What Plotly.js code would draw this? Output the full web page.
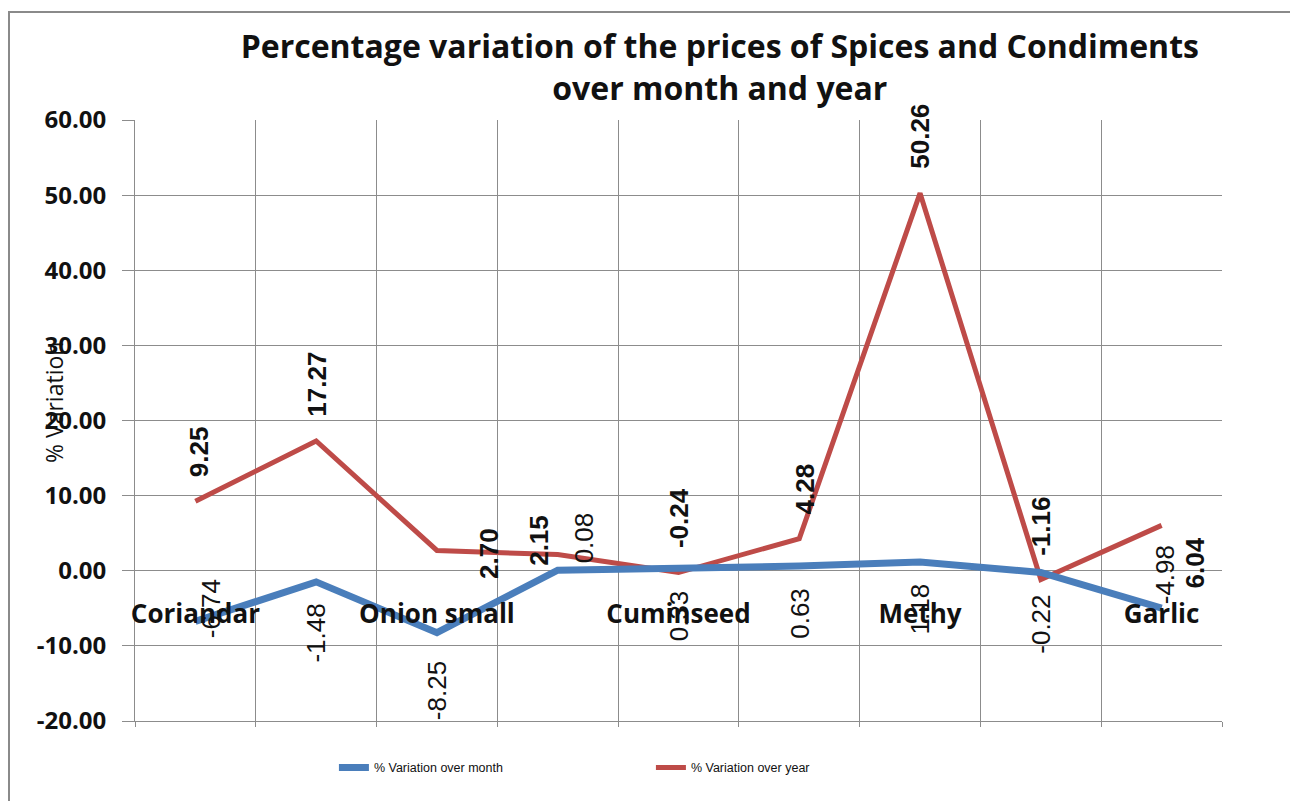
<!DOCTYPE html>
<html>
<head>
<meta charset="utf-8">
<script src="https://cdn.plot.ly/plotly-3.0.1.min.js"></script>
<style>
  html, body { margin: 0; padding: 0; background: #ffffff; }
  #frame { position: absolute; left: 8px; top: 11px; width: 1300px; height: 820px;
           border-left: 2px solid #8a8a8a; border-top: 2px solid #8a8a8a; }
  #chart { position: absolute; left: 0; top: 0; width: 1290px; height: 801px; }
</style>
</head>
<body>
<div id="frame"></div>
<div id="chart"></div>
<script>
// ---- data ----
var categories = ['Coriandar', 'Chillies', 'Onion small', 'Turmeric', 'Cuminseed', 'Tamarind', 'Methy', 'Ginger', 'Garlic'];
var shownLabels = ['Coriandar', 'Onion small', 'Cuminseed', 'Methy', 'Garlic'];
var overMonth = [-6.74, -1.48, -8.25, 0.08, 0.33, 0.63, 1.18, -0.22, -4.98];
var overYear  = [9.25, 17.27, 2.70, 2.15, -0.24, 4.28, 50.26, -1.16, 6.04];
var yTicks = [-20, -10, 0, 10, 20, 30, 40, 50, 60];
var seriesNames = ['% Variation over month', '% Variation over year'];
var titleText = 'Percentage variation of the prices of Spices and Condiments<br>over month and year';
var yTitleText = '% Variation';

// ---- styles ----
var blue = '#4A7EBB';
var red = '#BE4B48';
var grid = '#8c8c8c';
var labelFont = 'Liberation Sans, Arial, sans-serif';
var boldFont = 'Open Sans, sans-serif';
// label nudges in pixels [right, down] relative to the default label placement (style only)
var nudgeMonth = [[15, -64], [0, 0], [0, 6], [26, -80], [0, 0], [0, 0], [0, 0], [0, 0], [3, -85]];
var nudgeYear  = [[3, 0], [0, 0], [52, 52], [-19, 35], [0, 0], [6, 0], [0, 0], [0, 0], [33, 87]];

var traces = [
  { x: categories, y: overMonth, name: seriesNames[0], type: 'scatter', mode: 'lines',
    xaxis: 'x2', yaxis: 'y', line: { color: blue, width: 7 } },
  { x: categories, y: overYear, name: seriesNames[1], type: 'scatter', mode: 'lines',
    xaxis: 'x', yaxis: 'y', line: { color: red, width: 5 } }
];

var annotations = [];
categories.forEach(function (c, i) {
  annotations.push({ x: c, y: overMonth[i], xref: 'x', yref: 'y', text: overMonth[i].toFixed(2),
    showarrow: false, textangle: -90, yanchor: 'top',
    xshift: nudgeMonth[i][0], yshift: -20 - nudgeMonth[i][1],
    font: { family: labelFont, size: 26, color: '#111' } });
  annotations.push({ x: c, y: overYear[i], xref: 'x', yref: 'y', text: '<b>' + overYear[i].toFixed(2) + '</b>',
    showarrow: false, textangle: -90, yanchor: 'bottom',
    xshift: nudgeYear[i][0], yshift: 22 - nudgeYear[i][1],
    font: { family: labelFont, size: 26, color: '#111' } });
});
annotations.push({ xref: 'paper', yref: 'paper', x: -0.074, y: 0.53, xanchor: 'center', yanchor: 'middle',
  text: yTitleText, showarrow: false, textangle: -90,
  font: { family: 'Open Sans, sans-serif', size: 23, color: '#111' } });

var layout = {
  width: 1290, height: 801,
  paper_bgcolor: 'rgba(0,0,0,0)', plot_bgcolor: 'rgba(0,0,0,0)',
  margin: { l: 135, r: 68, t: 120, b: 80 },
  title: { text: titleText, xref: 'paper', x: 0.538, xanchor: 'center', yref: 'container', y: 0.927, yanchor: 'top',
    font: { family: boldFont, size: 32, weight: 700, color: '#111' } },
  showlegend: true,
  legend: { orientation: 'h', x: 0.183, xanchor: 'left', y: -0.078, yanchor: 'middle',
    entrywidth: 272, entrywidthmode: 'pixels', traceorder: 'normal',
    font: { family: labelFont, size: 12.5, color: '#111' } },
  xaxis: { type: 'category', categoryorder: 'array', categoryarray: categories, range: [-0.5, 8.5],
    tickson: 'boundaries', showgrid: true, gridcolor: grid, gridwidth: 1,
    showline: true, linecolor: grid, linewidth: 1, ticks: 'outside', ticklen: 5, tickcolor: grid,
    showticklabels: false, fixedrange: true },
  xaxis2: { type: 'category', overlaying: 'x', anchor: 'free', position: 0.25,
    categoryorder: 'array', categoryarray: categories, range: [-0.5, 8.5],
    tickmode: 'array', tickvals: shownLabels, ticktext: shownLabels,
    showgrid: false, showline: false, ticks: '', ticklabelstandoff: 25, zeroline: false,
    tickfont: { family: boldFont, size: 26, weight: 700, color: '#111' }, fixedrange: true },
  yaxis: { range: [-20, 60], tickmode: 'array', tickvals: yTicks,
    ticktext: yTicks.map(function (v) { return v.toFixed(2); }),
    showgrid: true, gridcolor: grid, gridwidth: 1,
    zeroline: false, showline: true, linecolor: grid, linewidth: 1, ticks: 'outside', ticklen: 12, tickcolor: grid,
    ticklabelstandoff: 11, tickfont: { family: boldFont, size: 24, weight: 700, color: '#111' }, fixedrange: true },
  shapes: [
    { type: 'line', layer: 'between', xref: 'paper', yref: 'y', x0: 0.001, x1: 1, y0: 60, y1: 60,
      line: { color: '#ffffff', width: 2 } }
  ],
  annotations: annotations
};

Plotly.newPlot('chart', traces, layout, { displayModeBar: false, staticPlot: true });
</script>
</body>
</html>
